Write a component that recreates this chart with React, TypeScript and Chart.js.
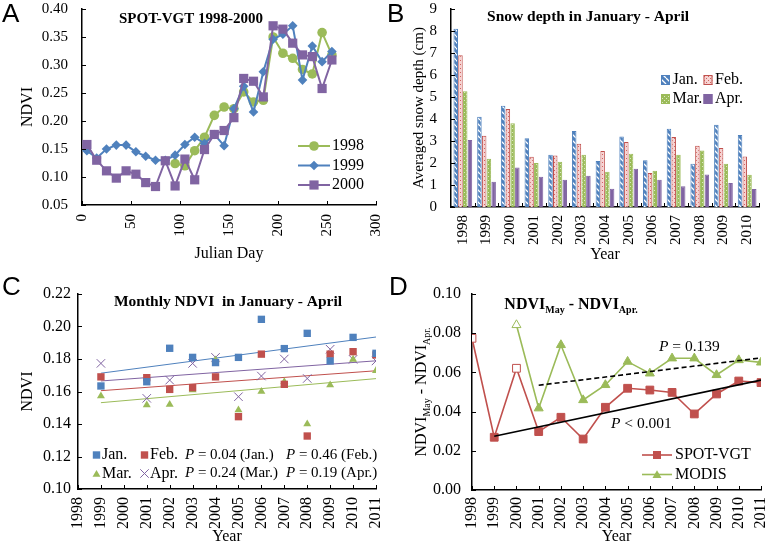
import React, { useEffect, useRef } from "react";
import { Chart, registerables } from "chart.js";

Chart.register(...registerables);

const SERIF = '"Liberation Serif", "Times New Roman", Times, serif';
const SANS = '"Liberation Sans", Arial, Helvetica, sans-serif';
Chart.defaults.font.family = SERIF;
Chart.defaults.color = "#000";

const GREEN = "#9bbb59";
const BLUE = "#4f81bd";
const PURPLE = "#8064a2";
const RED = "#c0504d";

// ---------------- Panel A: SPOT-VGT 1998-2000 ----------------
const julianDays = [5, 15, 25, 35, 45, 55, 65, 75, 85, 95, 105, 115, 125, 135, 145, 155, 165, 175, 185, 195, 205, 215, 225, 235, 245, 255];
const ndvi1998: (number | null)[] = [null, null, null, null, null, null, null, null, null, 0.124, 0.12, 0.147, 0.171, 0.21, 0.225, 0.222, 0.252, 0.234, 0.237, 0.35, 0.321, 0.312, 0.292, 0.284, 0.358, 0.318];
const ndvi1999: (number | null)[] = [0.147, 0.134, 0.15, 0.157, 0.157, 0.145, 0.137, 0.13, 0.13, 0.139, 0.158, 0.171, 0.16, 0.176, 0.156, 0.222, 0.262, 0.216, 0.288, 0.346, 0.355, 0.37, 0.273, 0.334, 0.306, 0.324];
const ndvi2000: (number | null)[] = [0.158, 0.13, 0.111, 0.098, 0.111, 0.105, 0.09, 0.083, 0.129, 0.084, 0.132, 0.095, 0.149, 0.176, 0.183, 0.206, 0.276, 0.271, 0.243, 0.37, 0.364, 0.339, 0.318, 0.315, 0.258, 0.309];
const aYRange = [0.05, 0.4, 0.05];
const aXRange = [0, 300, 50];

// ---------------- Panel B: snow depth ----------------
const snowYears = ["1998", "1999", "2000", "2001", "2002", "2003", "2004", "2005", "2006", "2007", "2008", "2009", "2010"];
const snowJan = [8.1, 4.1, 4.6, 3.13, 2.38, 3.46, 2.09, 3.21, 2.12, 3.56, 1.97, 3.74, 3.27];
const snowFeb = [6.9, 3.24, 4.46, 2.28, 2.34, 2.87, 2.54, 2.95, 1.54, 3.18, 2.78, 2.68, 2.3];
const snowMar = [5.26, 2.19, 3.81, 2.0, 2.06, 2.38, 1.6, 2.42, 1.65, 2.38, 2.57, 1.97, 1.47];
const snowApr = [3.05, 1.15, 1.8, 1.38, 1.24, 1.42, 0.83, 1.74, 1.24, 0.94, 1.48, 1.09, 0.82];
const bYRange = [0, 9, 1];

// ---------------- Panel C: monthly NDVI ----------------
const monthYears = [1999, 2001, 2002, 2003, 2004, 2005, 2006, 2007, 2008, 2009, 2010, 2011];
const ndviJan = [0.1634, 0.166, 0.1866, 0.181, 0.1778, 0.181, 0.2044, 0.1864, 0.1958, 0.1788, 0.1933, 0.1835];
const ndviFeb = [0.169, 0.1685, 0.1613, 0.1624, 0.169, 0.1445, 0.183, 0.1644, 0.1326, 0.183, 0.1845, 0.1825];
const ndviMar = [0.1572, 0.1517, 0.152, 0.161, 0.1794, 0.1486, 0.16, 0.166, 0.14, 0.164, 0.1798, 0.1728];
const ndviApr = [0.1773, 0.1558, 0.167, 0.1773, 0.181, 0.1568, 0.1695, 0.18, 0.168, 0.186, 0.1798, 0.1788];
const cPValues = ["0.04 (Jan.)", "0.46 (Feb.)", "0.24 (Mar.)", "0.19 (Apr.)"];
const cYRange = [0.1, 0.22, 0.02];
const cXRange = [1998, 2011, 1];

// ---------------- Panel D: NDVI May - Apr ----------------
const diffYears = [1998, 1999, 2000, 2001, 2002, 2003, 2004, 2005, 2006, 2007, 2008, 2009, 2010, 2011];
const spotDiff: (number | null)[] = [0.0774, 0.0269, 0.0621, 0.0298, 0.0371, 0.026, 0.0422, 0.0519, 0.051, 0.0498, 0.0388, 0.049, 0.0556, 0.0548];
const modisDiff: (number | null)[] = [null, null, 0.0842, 0.0417, 0.074, 0.0459, 0.0536, 0.0655, 0.0595, 0.0672, 0.0672, 0.0587, 0.0663, 0.0651];
const spotOpenYears = [1998, 2000];
const modisOpenYears = [2000];
const dPSpot = "< 0.001";
const dPModis = "= 0.139";
const dYRange = [0, 0.1, 0.02];
const dXRange = [1998, 2011, 1];

// ---------------- helpers ----------------
type Area = { left: number; top: number; right: number; bottom: number };

function fitTrend(xs: number[], ys: (number | null)[], skip: number[]) {
  const pts = xs
    .map((x, i) => ({ x, y: ys[i] }))
    .filter((p) => p.y != null && !skip.includes(p.x)) as { x: number; y: number }[];
  const n = pts.length;
  const mx = pts.reduce((s, p) => s + p.x, 0) / n;
  const my = pts.reduce((s, p) => s + p.y, 0) / n;
  let sxy = 0, sxx = 0;
  pts.forEach((p) => { sxy += (p.x - mx) * (p.y - my); sxx += (p.x - mx) * (p.x - mx); });
  const slope = sxy / sxx;
  const b = my - slope * mx;
  const x0 = Math.min(...pts.map((p) => p.x));
  const x1 = Math.max(...pts.map((p) => p.x));
  return [{ x: x0, y: b + slope * x0 }, { x: x1, y: b + slope * x1 }];
}

function marker(ctx: CanvasRenderingContext2D, style: string, x: number, y: number, r: number, fill: string | null, stroke: string | null, lw = 1) {
  ctx.save();
  ctx.beginPath();
  if (style === "circle") ctx.arc(x, y, r, 0, Math.PI * 2);
  else if (style === "square") ctx.rect(x - r, y - r, 2 * r, 2 * r);
  else if (style === "diamond") { ctx.moveTo(x, y - r); ctx.lineTo(x + r, y); ctx.lineTo(x, y + r); ctx.lineTo(x - r, y); ctx.closePath(); }
  else if (style === "triangle") { ctx.moveTo(x, y - r); ctx.lineTo(x + r * 0.866, y + r * 0.5); ctx.lineTo(x - r * 0.866, y + r * 0.5); ctx.closePath(); }
  else if (style === "cross") { const d = r * 0.707; ctx.moveTo(x - d, y - d); ctx.lineTo(x + d, y + d); ctx.moveTo(x + d, y - d); ctx.lineTo(x - d, y + d); }
  if (fill && style !== "cross") { ctx.fillStyle = fill; ctx.fill(); }
  if (stroke) { ctx.strokeStyle = stroke; ctx.lineWidth = lw; ctx.stroke(); }
  ctx.restore();
}

type Run = { t: string; font: string; dy?: number };
function rich(ctx: CanvasRenderingContext2D, runs: Run[], x: number, y: number, align: "left" | "center", rot = 0) {
  ctx.save();
  ctx.translate(x, y);
  ctx.rotate(rot);
  ctx.textAlign = "left";
  ctx.textBaseline = "middle";
  ctx.fillStyle = "#000";
  let w = 0;
  runs.forEach((r) => { ctx.font = r.font; w += ctx.measureText(r.t).width; });
  let cx = align === "center" ? -w / 2 : 0;
  runs.forEach((r) => { ctx.font = r.font; ctx.fillText(r.t, cx, r.dy || 0); cx += ctx.measureText(r.t).width; });
  ctx.restore();
}

function label(ctx: CanvasRenderingContext2D, t: string, x: number, y: number, font: string, align: CanvasTextAlign = "left") {
  ctx.save();
  ctx.font = font;
  ctx.fillStyle = "#000";
  ctx.textAlign = align;
  ctx.textBaseline = "middle";
  ctx.fillText(t, x, y);
  ctx.restore();
}

function panelLetter(ctx: CanvasRenderingContext2D, t: string, x: number, baseline: number) {
  ctx.save();
  ctx.font = `26px ${SANS}`;
  ctx.fillStyle = "#000";
  ctx.textAlign = "left";
  ctx.textBaseline = "alphabetic";
  ctx.fillText(t, x, baseline);
  ctx.restore();
}

function innerTicks(chart: any, len = 4) {
  const { ctx, chartArea } = chart;
  const xs = chart.scales.x;
  const ys = chart.scales.y;
  ctx.save();
  ctx.strokeStyle = "#000";
  ctx.lineWidth = 1;
  ctx.beginPath();
  ys.ticks.forEach((t: any) => {
    const y = Math.round(ys.getPixelForValue(t.value)) + 0.5;
    ctx.moveTo(chartArea.left, y);
    ctx.lineTo(chartArea.left + len, y);
  });
  if (xs.type === "category") {
    const n = xs.ticks.length;
    for (let i = 1; i <= n; i++) {
      const x = Math.round(chartArea.left + (i * (chartArea.right - chartArea.left)) / n) + 0.5;
      ctx.moveTo(x, chartArea.bottom);
      ctx.lineTo(x, chartArea.bottom - len);
    }
  } else {
    xs.ticks.forEach((t: any) => {
      const x = Math.round(xs.getPixelForValue(t.value)) + 0.5;
      ctx.moveTo(x, chartArea.bottom);
      ctx.lineTo(x, chartArea.bottom - len);
    });
  }
  ctx.stroke();
  ctx.restore();
}

function axisBase(W: number, H: number, area: Area) {
  return {
    padding: { top: area.top, right: W - area.right, left: 0, bottom: 0 },
    xFit: (s: any) => { s.height = H - area.bottom; s.paddingLeft = 0; s.paddingRight = 0; },
    yFit: (s: any) => { s.width = area.left; s.paddingTop = 0; s.paddingBottom = 0; },
  };
}

const border = { display: true, color: "#000", width: 1.5 };
const noGrid = { display: false, drawTicks: false };

function makePattern(kind: string): CanvasPattern | string {
  const c = document.createElement("canvas");
  const g = c.getContext("2d")!;
  if (kind === "jan") {
    c.width = 6; c.height = 6;
    g.fillStyle = BLUE; g.fillRect(0, 0, 6, 6);
    g.strokeStyle = "#ffffff"; g.lineWidth = 1.3;
    g.beginPath();
    [-6, 0, 6].forEach((k) => { g.moveTo(0, k); g.lineTo(6, 6 + k); });
    g.stroke();
  } else if (kind === "feb") {
    c.width = 4; c.height = 4;
    g.fillStyle = "#f6d3d2"; g.fillRect(0, 0, 4, 4);
    g.fillStyle = "#d0625f"; g.fillRect(0, 0, 1, 1); g.fillRect(2, 2, 1, 1);
  } else if (kind === "mar") {
    c.width = 4; c.height = 4;
    g.fillStyle = GREEN; g.fillRect(0, 0, 4, 4);
    g.fillStyle = "#dce8c4"; g.fillRect(0, 0, 1, 1); g.fillRect(2, 2, 1, 1);
  } else {
    return PURPLE;
  }
  return g.createPattern(c, "repeat")!;
}

// ---------------- configs ----------------
function configA(W: number, H: number) {
  const area = { left: 82, top: 9, right: 376, bottom: 205 };
  const b = axisBase(W, H, area);
  const series = [
    { label: "1998", data: ndvi1998, color: GREEN, style: "circle", chartStyle: "circle", r: 4.8, order: 2 },
    { label: "1999", data: ndvi1999, color: BLUE, style: "diamond", chartStyle: "rectRot", r: 4.8, order: 1 },
    { label: "2000", data: ndvi2000, color: PURPLE, style: "square", chartStyle: "rect", r: 6.5, order: 0 },
  ];
  return {
    type: "line",
    data: {
      datasets: series.map((s) => ({
        label: s.label,
        data: julianDays.map((d, i) => ({ x: d, y: s.data[i] })),
        borderColor: s.color,
        backgroundColor: s.color,
        pointBackgroundColor: s.color,
        pointBorderColor: s.color,
        pointBorderWidth: 0,
        pointStyle: s.chartStyle,
        pointRadius: s.r,
        borderWidth: 2,
        tension: 0,
        order: s.order,
      })),
    },
    options: {
      responsive: false,
      animation: false,
      layout: { padding: b.padding, autoPadding: false },
      plugins: { legend: { display: false }, tooltip: { enabled: false } },
      scales: {
        x: {
          type: "linear", min: aXRange[0], max: aXRange[1],
          ticks: { stepSize: aXRange[2], maxRotation: 90, minRotation: 90, padding: 9, font: { size: 15 }, color: "#000" },
          grid: noGrid, border,
          title: { display: true, text: "Julian Day", font: { size: 16 }, color: "#000", padding: { top: 0, bottom: 7 } },
          afterFit: b.xFit,
        },
        y: {
          type: "linear", min: aYRange[0], max: aYRange[1],
          ticks: { stepSize: aYRange[2], padding: 14, font: { size: 15 }, color: "#000", callback: (v: any) => Number(v).toFixed(2) },
          grid: noGrid, border,
          title: { display: true, text: "NDVI", font: { size: 16 }, color: "#000", padding: { top: 18, bottom: 0 } },
          afterFit: b.yFit,
        },
      },
    },
    plugins: [
      {
        id: "overlayA",
        afterDraw(chart: any) {
          const ctx = chart.ctx;
          innerTicks(chart);
          label(ctx, "SPOT-VGT 1998-2000", 191, 19, `bold 15px ${SERIF}`, "center");
          series.forEach((s, i) => {
            const y = 146 + i * 19.5;
            ctx.save();
            ctx.strokeStyle = s.color; ctx.lineWidth = 2;
            ctx.beginPath(); ctx.moveTo(298, y); ctx.lineTo(330, y); ctx.stroke();
            ctx.restore();
            const mr = s.style === "square" ? 4.6 : 4.8;
            marker(ctx, s.style, 314, y, mr, s.color, null);
            label(ctx, s.label, 332, y, `16px ${SERIF}`);
          });
          panelLetter(ctx, "A", 2, 22);
        },
      },
    ],
  };
}

function configB(W: number, H: number) {
  const area = { left: 67, top: 9, right: 375, bottom: 207 };
  const b = axisBase(W, H, area);
  const series = [
    { label: "Jan.", data: snowJan, pat: makePattern("jan"), border: BLUE },
    { label: "Feb.", data: snowFeb, pat: makePattern("feb"), border: RED },
    { label: "Mar.", data: snowMar, pat: makePattern("mar"), border: GREEN },
    { label: "Apr.", data: snowApr, pat: makePattern("apr"), border: PURPLE },
  ];
  return {
    type: "bar",
    data: {
      labels: snowYears,
      datasets: series.map((s) => ({
        label: s.label,
        data: s.data,
        backgroundColor: s.pat,
        borderColor: s.border,
        borderWidth: 1,
        categoryPercentage: 0.8,
        barPercentage: 0.95,
      })),
    },
    options: {
      responsive: false,
      animation: false,
      layout: { padding: b.padding, autoPadding: false },
      plugins: { legend: { display: false }, tooltip: { enabled: false } },
      scales: {
        x: {
          type: "category", offset: true,
          ticks: { maxRotation: 90, minRotation: 90, padding: 8, font: { size: 15 }, color: "#000", autoSkip: false },
          grid: { display: false, drawTicks: false, offset: true }, border,
          title: { display: true, text: "Year", font: { size: 16 }, color: "#000", padding: { top: 0, bottom: 6 } },
          afterFit: b.xFit,
        },
        y: {
          type: "linear", min: bYRange[0], max: bYRange[1],
          ticks: { stepSize: bYRange[2], padding: 14, font: { size: 15 }, color: "#000" },
          grid: noGrid, border,
          title: { display: true, text: "Averaged snow depth (cm)", font: { size: 15 }, color: "#000", padding: { top: 26, bottom: 0 } },
          afterFit: b.yFit,
        },
      },
    },
    plugins: [
      {
        id: "overlayB",
        afterDraw(chart: any) {
          const ctx = chart.ctx;
          innerTicks(chart);
          label(ctx, "Snow depth in January - April", 204, 17, `bold 15.5px ${SERIF}`, "center");
          series.forEach((s, i) => {
            const col = i % 2;
            const row = Math.floor(i / 2);
            const sx = col === 0 ? 277 : 319.5;
            const y = 80 + row * 19;
            ctx.save();
            ctx.fillStyle = s.pat as any;
            ctx.fillRect(sx, y - 5, 9, 10);
            ctx.strokeStyle = s.border; ctx.lineWidth = 1;
            ctx.strokeRect(sx + 0.5, y - 4.5, 8, 9);
            ctx.restore();
            label(ctx, s.label, sx + 11.5, y, `16px ${SERIF}`);
          });
          panelLetter(ctx, "B", 3, 22);
        },
      },
    ],
  };
}

function configC(W: number, H: number) {
  const area = { left: 78, top: 24, right: 376, bottom: 219 };
  const b = axisBase(W, H, area);
  const series = [
    { label: "Jan.", data: ndviJan, color: BLUE, style: "square", chartStyle: "rect", r: 5.2, lr: 3.7 },
    { label: "Feb.", data: ndviFeb, color: RED, style: "square", chartStyle: "rect", r: 5.2, lr: 3.7 },
    { label: "Mar.", data: ndviMar, color: GREEN, style: "triangle", chartStyle: "triangle", r: 4.6, lr: 4.6 },
    { label: "Apr.", data: ndviApr, color: PURPLE, style: "cross", chartStyle: "crossRot", r: 6, lr: 6 },
  ];
  const pts = series.map((s) => ({
    label: s.label,
    data: monthYears.map((y, i) => ({ x: y, y: s.data[i] })),
    showLine: false,
    pointStyle: s.chartStyle,
    pointRadius: s.r,
    pointBackgroundColor: s.color,
    pointBorderColor: s.color,
    pointBorderWidth: s.style === "cross" ? 1 : 0,
    order: 1,
  }));
  const trends = series.map((s) => ({
    label: s.label + " trend",
    data: fitTrend(monthYears, s.data, []),
    showLine: true,
    borderColor: s.color,
    borderWidth: 1,
    pointRadius: 0,
    order: 2,
  }));
  return {
    type: "scatter",
    data: { datasets: [...pts, ...trends] },
    options: {
      responsive: false,
      animation: false,
      layout: { padding: b.padding, autoPadding: false },
      plugins: { legend: { display: false }, tooltip: { enabled: false } },
      scales: {
        x: {
          type: "linear", min: cXRange[0], max: cXRange[1],
          ticks: { stepSize: cXRange[2], maxRotation: 90, minRotation: 90, padding: 8, font: { size: 16 }, color: "#000", autoSkip: false, callback: (v: any) => String(v) },
          grid: noGrid, border,
          title: { display: true, text: "Year", font: { size: 16, lineHeight: 1 }, color: "#000", padding: { top: 0, bottom: 0 } },
          afterFit: b.xFit,
        },
        y: {
          type: "linear", min: cYRange[0], max: cYRange[1],
          ticks: { stepSize: cYRange[2], padding: 7, font: { size: 16 }, color: "#000", callback: (v: any) => Number(v).toFixed(2) },
          grid: noGrid, border,
          title: { display: true, text: "NDVI", font: { size: 16 }, color: "#000", padding: { top: 18, bottom: 0 } },
          afterFit: b.yFit,
        },
      },
    },
    plugins: [
      {
        id: "overlayC",
        afterDraw(chart: any) {
          const ctx = chart.ctx;
          innerTicks(chart);
          label(ctx, "Monthly NDVI  in January - April", 228, 32, `bold 15.5px ${SERIF}`, "center");
          series.forEach((s, i) => {
            const col = i % 2;
            const row = Math.floor(i / 2);
            const y = 185 + row * 18.5;
            const mx = col === 0 ? 96.5 : 144.5;
            marker(ctx, s.style, mx, y + (s.style === "triangle" ? 1 : 0), s.lr, s.color, s.style === "cross" ? s.color : null, 1);
            label(ctx, s.label, mx + 5.5, y, `16px ${SERIF}`);
          });
          const pPos = [[185, 185], [286, 185], [185, 203.5], [286, 203.5]];
          cPValues.forEach((p, i) => {
            rich(ctx, [
              { t: "P", font: `italic 15px ${SERIF}` },
              { t: " = " + p, font: `15px ${SERIF}` },
            ], pPos[i][0], pPos[i][1], "left");
          });
          panelLetter(ctx, "C", 2, 25);
        },
      },
    ],
  };
}

function configD(W: number, H: number) {
  const area = { left: 88, top: 24, right: 377, bottom: 220 };
  const b = axisBase(W, H, area);
  const spotData = diffYears.map((y, i) => ({ x: y, y: spotDiff[i] }));
  const modisData = diffYears.map((y, i) => ({ x: y, y: modisDiff[i] }));
  return {
    type: "line",
    data: {
      datasets: [
        {
          label: "SPOT-VGT",
          data: spotData,
          borderColor: RED,
          borderWidth: 1.6,
          pointStyle: "rect",
          pointRadius: 5.5,
          pointBorderColor: RED,
          pointBorderWidth: 1,
          pointBackgroundColor: (c: any) => (c.raw && spotOpenYears.includes(c.raw.x) ? "#ffffff" : RED),
          tension: 0,
          order: 2,
        },
        {
          label: "MODIS",
          data: modisData,
          borderColor: GREEN,
          borderWidth: 1.6,
          pointStyle: "triangle",
          pointRadius: 5.2,
          pointBorderColor: GREEN,
          pointBorderWidth: 1,
          pointBackgroundColor: (c: any) => (c.raw && modisOpenYears.includes(c.raw.x) ? "#ffffff" : GREEN),
          tension: 0,
          order: 3,
        },
        {
          label: "SPOT trend",
          data: fitTrend(diffYears, spotDiff, spotOpenYears),
          borderColor: "#000",
          borderWidth: 1.6,
          pointRadius: 0,
          order: 1,
        },
        {
          label: "MODIS trend",
          data: fitTrend(diffYears, modisDiff, modisOpenYears),
          borderColor: "#000",
          borderWidth: 1.6,
          borderDash: [5, 3],
          pointRadius: 0,
          order: 1,
        },
      ],
    },
    options: {
      responsive: false,
      animation: false,
      layout: { padding: b.padding, autoPadding: false },
      plugins: { legend: { display: false }, tooltip: { enabled: false } },
      scales: {
        x: {
          type: "linear", min: dXRange[0], max: dXRange[1],
          ticks: { stepSize: dXRange[2], maxRotation: 90, minRotation: 90, padding: 7, font: { size: 16 }, color: "#000", autoSkip: false, callback: (v: any) => String(v) },
          grid: noGrid, border,
          title: { display: true, text: "Year", font: { size: 16, lineHeight: 1 }, color: "#000", padding: { top: 0, bottom: 0 } },
          afterFit: b.xFit,
        },
        y: {
          type: "linear", min: dYRange[0], max: dYRange[1],
          ticks: { stepSize: dYRange[2], padding: 11, font: { size: 16 }, color: "#000", callback: (v: any) => Number(v).toFixed(2) },
          grid: noGrid, border,
          title: { display: false },
          afterFit: b.yFit,
        },
      },
    },
    plugins: [
      {
        id: "overlayD",
        afterDraw(chart: any) {
          const ctx = chart.ctx;
          innerTicks(chart);
          rich(ctx, [
            { t: "NDVI", font: `bold 16px ${SERIF}` },
            { t: "May", font: `bold 10px ${SERIF}`, dy: 5 },
            { t: " - NDVI", font: `bold 16px ${SERIF}` },
            { t: "Apr.", font: `bold 10px ${SERIF}`, dy: 5 },
          ], 187, 35, "center");
          rich(ctx, [
            { t: "NDVI", font: `16px ${SERIF}` },
            { t: "May", font: `10px ${SERIF}`, dy: 5 },
            { t: " - NDVI", font: `16px ${SERIF}` },
            { t: "Apr.", font: `10px ${SERIF}`, dy: 5 },
          ], 38, 122, "center", -Math.PI / 2);
          rich(ctx, [
            { t: "P", font: `italic 15.5px ${SERIF}` },
            { t: " " + dPModis, font: `15.5px ${SERIF}` },
          ], 275, 77, "left");
          rich(ctx, [
            { t: "P", font: `italic 15.5px ${SERIF}` },
            { t: " " + dPSpot, font: `15.5px ${SERIF}` },
          ], 227, 154, "left");
          const leg = [
            { t: "SPOT-VGT", c: RED, s: "square", r: 4 },
            { t: "MODIS", c: GREEN, s: "triangle", r: 5.2 },
          ];
          leg.forEach((l, i) => {
            const y = 185 + i * 19.5;
            ctx.save();
            ctx.strokeStyle = l.c; ctx.lineWidth = 1.6;
            ctx.beginPath(); ctx.moveTo(258, y); ctx.lineTo(288, y); ctx.stroke();
            ctx.restore();
            marker(ctx, l.s, 273, y + (l.s === "triangle" ? 1 : 0), l.r, l.c, null);
            label(ctx, l.t, 291, y, `16px ${SERIF}`);
          });
          panelLetter(ctx, "D", 5, 25);
        },
      },
    ],
  };
}

function ChartPanel({ left, top, width, height, build }: { left: number; top: number; width: number; height: number; build: (w: number, h: number) => any }) {
  const ref = useRef<HTMLCanvasElement>(null);
  useEffect(() => {
    const chart = new Chart(ref.current as HTMLCanvasElement, build(width, height));
    return () => chart.destroy();
  }, []);
  return (
    <div style={{ position: "absolute", left, top, width, height }}>
      <canvas ref={ref} width={width} height={height} style={{ display: "block", width, height }} />
    </div>
  );
}

export default function App() {
  return (
    <div style={{ position: "absolute", left: 0, top: 0, width: 768, height: 545, background: "#fff", overflow: "hidden" }}>
      <ChartPanel left={0} top={0} width={384} height={270} build={configA} />
      <ChartPanel left={384} top={0} width={384} height={270} build={configB} />
      <ChartPanel left={0} top={270} width={384} height={275} build={configC} />
      <ChartPanel left={384} top={270} width={384} height={275} build={configD} />
    </div>
  );
}
